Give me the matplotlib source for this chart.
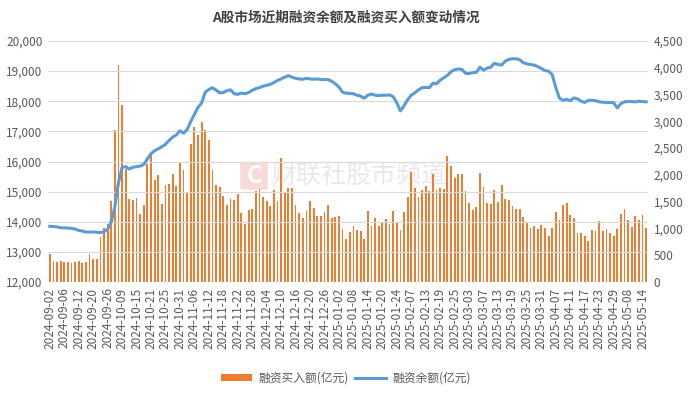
import numpy as np
import pandas as pd
import matplotlib.pyplot as plt
from matplotlib.patches import Patch, FancyBboxPatch
from matplotlib.lines import Line2D
from matplotlib.ticker import FuncFormatter

plt.rcParams['font.family'] = ['Noto Sans CJK SC', 'DejaVu Sans']

# 交易日（剔除节假日）
holidays = ['2024-09-16', '2024-09-17', '2024-10-01', '2024-10-02', '2024-10-03',
            '2024-10-04', '2024-10-07', '2025-01-01', '2025-01-28', '2025-01-29',
            '2025-01-30', '2025-01-31', '2025-02-03', '2025-02-04', '2025-04-04',
            '2025-05-01', '2025-05-02', '2025-05-05']
days = pd.bdate_range('2024-09-02', '2025-05-15')
days = days[~days.isin(pd.to_datetime(holidays))]
dates = days.strftime('%Y-%m-%d').tolist()

# 融资买入额(亿元)
buy = [520, 400, 380, 400, 370, 380, 360, 372, 397, 360, 372, 515, 422, 422, 843, 1011,
       1085, 1513, 2840, 4055, 3305, 2114, 1544, 1538, 1562, 1271, 1432, 2207, 2381, 1897,
       1990, 1463, 1810, 1823, 2021, 1786, 2244, 2096, 1680, 2579, 2895, 2753, 2995, 2840,
       2660, 2083, 1804, 1767, 1600, 1438, 1544, 1525, 1649, 1296, 1085, 1339, 1364, 1699,
       1736, 1587, 1507, 1420, 1724, 1507, 2307, 1658, 1751, 1751, 1429, 1296, 1203, 1333,
       1513, 1383, 1228, 1240, 1302, 1432, 1203, 1215, 1228, 986, 794, 930, 1054, 967,
       961, 794, 1333, 1048, 1203, 1042, 1116, 1178, 1079, 1333, 1128, 967, 1302, 1593,
       2058, 1748, 1593, 1717, 1792, 1705, 2015, 1717, 1761, 1730, 2362, 2170, 1941, 2021,
       2015, 1692, 1476, 1339, 1395, 2027, 1780, 1476, 1463, 1717, 1500, 1810, 1544, 1538,
       1414, 1370, 1370, 1215, 1097, 1017, 1054, 998, 1060, 1011, 868, 1017, 1308, 1166,
       1432, 1476, 1246, 1190, 911, 911, 868, 763, 973, 961, 1135, 949, 998, 911,
       868, 986, 1265, 1370, 1166, 1029, 1234, 1166, 1250, 1000]

# 融资余额(亿元)
balance = [13850, 13840, 13830, 13800, 13800, 13790, 13780, 13760, 13710, 13690, 13660,
           13660, 13660, 13650, 13640, 13670, 13750, 14000, 14500, 15300, 15800, 15830,
           15750, 15810, 15830, 15850, 15900, 16090, 16260, 16360, 16420, 16490, 16570,
           16700, 16810, 16880, 17020, 16940, 17060, 17330, 17560, 17800, 17940, 18300,
           18390, 18450, 18370, 18280, 18290, 18350, 18380, 18250, 18230, 18270, 18250,
           18290, 18360, 18420, 18450, 18500, 18530, 18560, 18620, 18690, 18740, 18800,
           18850, 18800, 18760, 18740, 18730, 18760, 18740, 18730, 18740, 18720, 18720,
           18720, 18660, 18580, 18470, 18300, 18270, 18260, 18250, 18200, 18170, 18100,
           18200, 18240, 18200, 18190, 18200, 18200, 18210, 18150, 17950, 17680, 17850,
           18050, 18200, 18280, 18380, 18450, 18460, 18450, 18600, 18580, 18700, 18780,
           18860, 18980, 19050, 19070, 19060, 18930, 18920, 18950, 18960, 19130, 19030,
           19100, 19130, 19260, 19220, 19200, 19330, 19390, 19410, 19410, 19380, 19280,
           19240, 19220, 19200, 19150, 19090, 19020, 19000, 18880, 18450, 18100, 18030,
           18060, 18020, 18110, 18080, 18000, 17960, 18030, 18030, 18020, 17980, 17970,
           17950, 17960, 17950, 17780, 17920, 17980, 17990, 17990, 17980, 18000, 17990,
           17980]

n = len(dates)
x = np.arange(n)
orange = '#ED7D31'
blue = '#5B9BD5'
txt = '#595959'

fig = plt.figure(figsize=(6.92, 3.96), dpi=100)
ax = fig.add_axes([48 / 692, 1 - 282 / 396, 600 / 692, 241 / 396])
ax2 = ax.twinx()

ax2.bar(x, buy[:n], width=0.5, color=orange)
ax.plot(x, balance[:n], color=blue, lw=2.2)
ax.set_zorder(ax2.get_zorder() + 1)
ax.patch.set_visible(False)
ax2.patch.set_visible(False)

ax.set_xlim(-0.5, n - 0.5)
ax.set_ylim(12000, 20000)
ax2.set_ylim(0, 4500)
ax.set_yticks(np.arange(12000, 20001, 1000))
ax2.set_yticks(np.arange(0, 4501, 500))
fmt = FuncFormatter(lambda v, p: f'{int(v):,}')
ax.yaxis.set_major_formatter(fmt)
ax2.yaxis.set_major_formatter(fmt)

ax.set_xticks(x[::4])
ax.set_xticklabels(dates[::4], rotation=90)

for a in (ax, ax2):
    for s in a.spines.values():
        s.set_visible(False)
    a.tick_params(length=0, labelsize=8.5, colors=txt, pad=4)
ax.grid(axis='y', color='#D9D9D9', lw=0.8)

# 标题
fig.text(0.5, 1 - 18 / 396, 'A股市场近期融资余额及融资买入额变动情况',
         ha='center', va='center', fontsize=9.8, fontweight='bold', color='#404040')

# 水印（置于图层底部）
logo = FancyBboxPatch((243 / 692, 1 - 188 / 396), 22 / 692, 24 / 396,
                      boxstyle='round,pad=0.004', transform=fig.transFigure,
                      facecolor='#F9DADA', edgecolor='none', zorder=-2)
fig.patches.append(logo)
fig.text(254 / 692, 1 - 176 / 396, 'C', ha='center', va='center', fontsize=17,
         fontweight='bold', color='white', zorder=-1)
fig.text(271 / 692, 1 - 176 / 396, '财联社股市频道', ha='left', va='center',
         fontsize=18, color='#E8E8E8', zorder=-1)

# 图例
handles = [Patch(facecolor=orange), Line2D([], [], color=blue, lw=2.2)]
fig.legend(handles, ['融资买入额(亿元)', '融资余额(亿元)'], loc='center',
           bbox_to_anchor=(0.5, 1 - 378 / 396), ncol=2, frameon=False,
           fontsize=8.5, labelcolor=txt, handlelength=2.6, handleheight=0.5,
           columnspacing=0.6, handletextpad=0.5)

fig.savefig('out.png', dpi=100)
